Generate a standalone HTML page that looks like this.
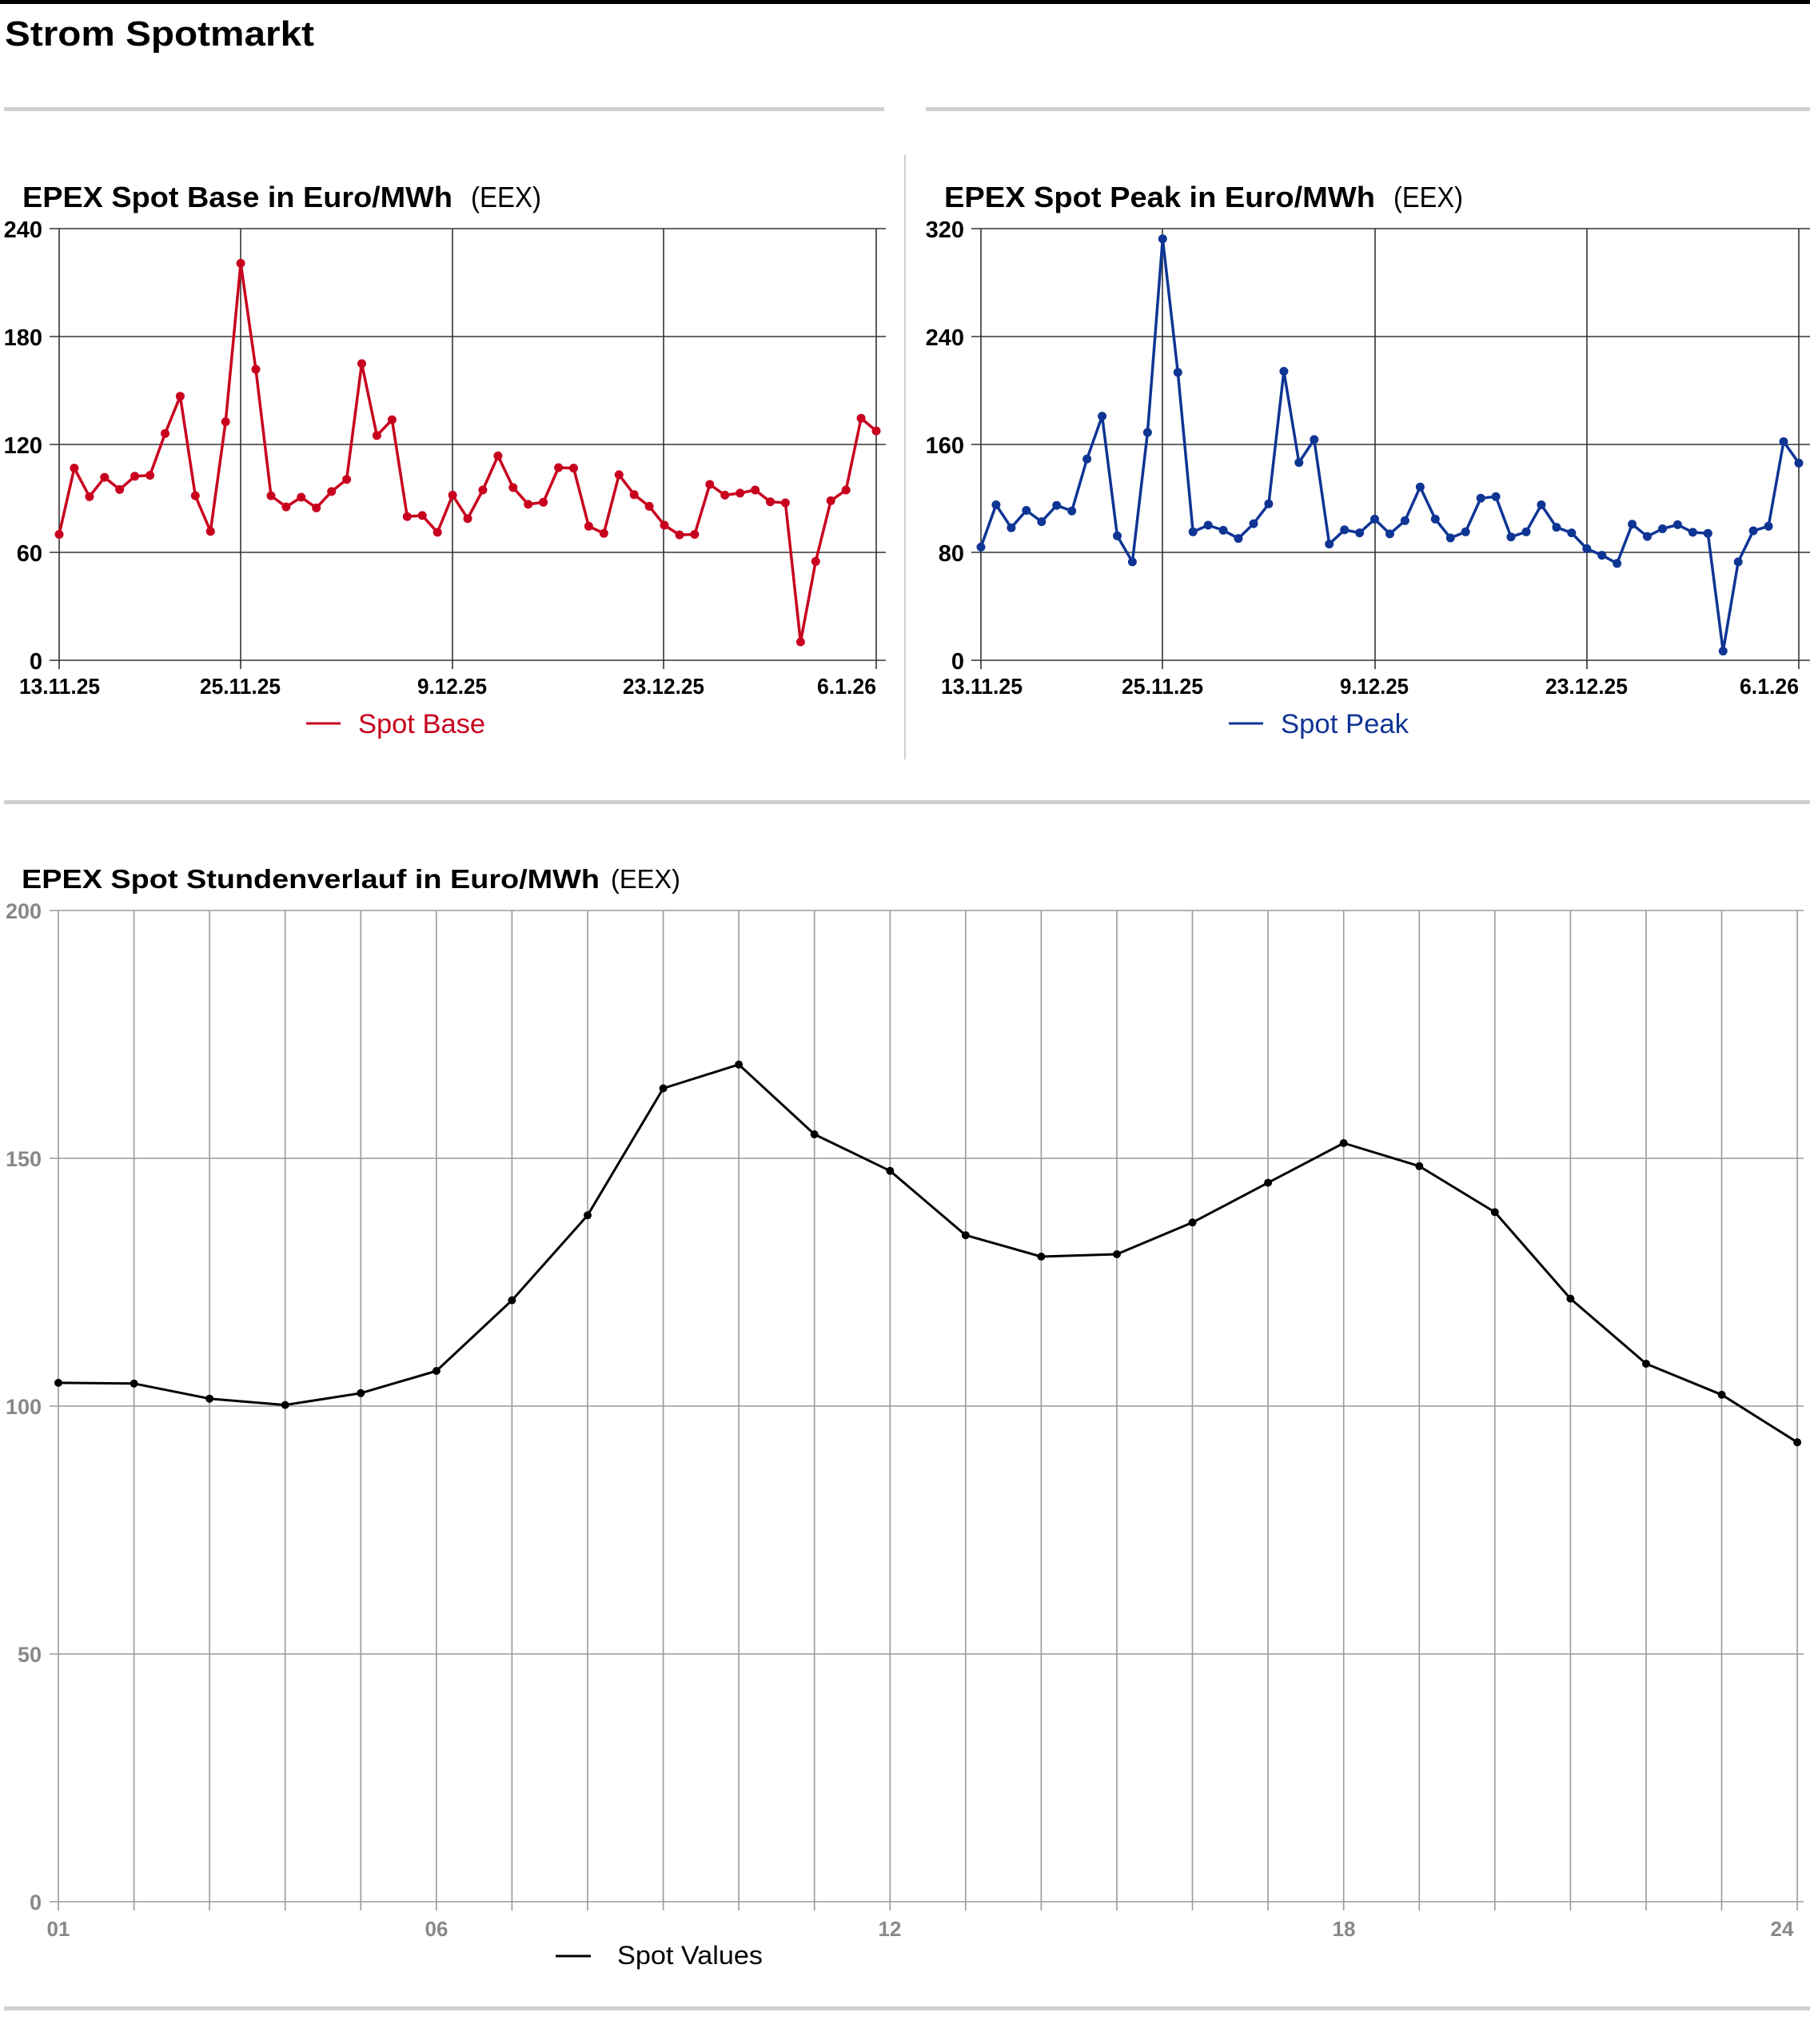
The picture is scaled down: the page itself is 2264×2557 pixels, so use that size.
<!DOCTYPE html>
<html><head><meta charset="utf-8"><style>
html,body{margin:0;padding:0;background:#fff;}
svg{display:block;}
text{font-family:"Liberation Sans Narrow","Liberation Sans",Arial,sans-serif;}
.h{font-family:"Liberation Sans",Arial,sans-serif;}
</style></head><body>
<svg width="2264" height="2557" viewBox="0 0 2264 2557" xmlns="http://www.w3.org/2000/svg">
<rect x="0" y="0" width="2264" height="5" fill="#000"/>
<text class="h" x="6" y="57" font-size="44" font-weight="bold" textLength="387" lengthAdjust="spacingAndGlyphs">Strom Spotmarkt</text>
<rect x="5" y="134" width="1101" height="5" fill="#cfcfcf"/>
<rect x="1158" y="134" width="1106" height="5" fill="#cfcfcf"/>
<rect x="1131" y="194" width="2" height="756" fill="#cfcfcf"/>
<rect x="5" y="1001" width="2259" height="5" fill="#cfcfcf"/>
<rect x="5" y="2510" width="2259" height="5" fill="#cfcfcf"/>

<!-- BASE -->
<text class="h" x="28" y="259" font-size="36" font-weight="bold" textLength="538" lengthAdjust="spacingAndGlyphs">EPEX Spot Base in Euro/MWh</text>
<text class="h" x="589" y="259" font-size="36" textLength="88" lengthAdjust="spacingAndGlyphs">(EEX)</text>
<g stroke="#333" stroke-width="1.6">
<line x1="62" y1="286" x2="1108" y2="286"/><line x1="62" y1="421" x2="1108" y2="421"/><line x1="62" y1="556" x2="1108" y2="556"/><line x1="62" y1="691" x2="1108" y2="691"/><line x1="62" y1="826" x2="1108" y2="826"/>
<line x1="74" y1="286" x2="74" y2="837"/><line x1="301" y1="286" x2="301" y2="837"/><line x1="566" y1="286" x2="566" y2="837"/><line x1="830" y1="286" x2="830" y2="837"/><line x1="1096" y1="286" x2="1096" y2="837"/>
</g>
<g font-size="29" font-weight="bold" text-anchor="end">
<text x="53" y="297">240</text><text x="53" y="432">180</text><text x="53" y="567">120</text><text x="53" y="702">60</text><text x="53" y="837">0</text>
</g>
<g font-size="28" font-weight="bold">
<text x="24" y="868" textLength="101" lengthAdjust="spacingAndGlyphs">13.11.25</text>
<text x="250" y="868" textLength="101" lengthAdjust="spacingAndGlyphs">25.11.25</text>
<text x="522" y="868" textLength="87" lengthAdjust="spacingAndGlyphs">9.12.25</text>
<text x="779" y="868" textLength="102" lengthAdjust="spacingAndGlyphs">23.12.25</text>
<text x="1022" y="868" textLength="74" lengthAdjust="spacingAndGlyphs">6.1.26</text>
</g>
<polyline fill="none" stroke="#c8001e" stroke-width="3.5" stroke-linejoin="round" points="74,668.5 92.9,585.6 111.9,621.3 130.8,597.1 149.7,612.4 168.6,595.8 187.6,594.6 206.5,542.3 225.4,495.7 244.3,620.1 263.3,664.7 282.2,527.6 301.1,329.4 320,462 339,620.1 357.9,634.1 376.8,622 395.7,635.4 414.7,614.9 433.6,599.7 452.5,454.9 471.4,544.8 490.4,525.1 509.3,646.2 528.2,644.9 547.2,665.9 566.1,619.4 585,648.7 603.9,613 622.9,570.3 641.8,609.9 660.7,630.9 679.6,628.3 698.6,585 717.5,585.6 736.4,658.3 755.3,667.2 774.3,593.9 793.2,618.8 812.1,633.4 831,657 850,669.1 868.9,668.5 887.8,606 906.7,619.4 925.7,616.9 944.6,613 963.5,627.7 982.4,629 1001.4,803 1020.3,702.3 1039.2,626.4 1058.2,613 1077.1,523.2 1096,539.1"/>
<g fill="#c8001e" id="bd"></g>
<line x1="383" y1="905" x2="426" y2="905" stroke="#c8001e" stroke-width="3"/>
<text class="h" x="448" y="917" font-size="34" fill="#c8001e" textLength="159" lengthAdjust="spacingAndGlyphs">Spot Base</text>

<!-- PEAK -->
<text class="h" x="1181" y="259" font-size="36" font-weight="bold" textLength="539" lengthAdjust="spacingAndGlyphs">EPEX Spot Peak in Euro/MWh</text>
<text class="h" x="1743" y="259" font-size="36" textLength="87" lengthAdjust="spacingAndGlyphs">(EEX)</text>
<g stroke="#333" stroke-width="1.6">
<line x1="1215" y1="286" x2="2264" y2="286"/><line x1="1215" y1="421" x2="2264" y2="421"/><line x1="1215" y1="556" x2="2264" y2="556"/><line x1="1215" y1="691" x2="2264" y2="691"/><line x1="1215" y1="826" x2="2264" y2="826"/>
<line x1="1227" y1="286" x2="1227" y2="837"/><line x1="1454" y1="286" x2="1454" y2="837"/><line x1="1720" y1="286" x2="1720" y2="837"/><line x1="1985" y1="286" x2="1985" y2="837"/><line x1="2250" y1="286" x2="2250" y2="837"/>
</g>
<g font-size="29" font-weight="bold" text-anchor="end">
<text x="1206" y="297">320</text><text x="1206" y="432">240</text><text x="1206" y="567">160</text><text x="1206" y="702">80</text><text x="1206" y="837">0</text>
</g>
<g font-size="28" font-weight="bold">
<text x="1177" y="868" textLength="102" lengthAdjust="spacingAndGlyphs">13.11.25</text>
<text x="1403" y="868" textLength="102" lengthAdjust="spacingAndGlyphs">25.11.25</text>
<text x="1676" y="868" textLength="86" lengthAdjust="spacingAndGlyphs">9.12.25</text>
<text x="1933" y="868" textLength="103" lengthAdjust="spacingAndGlyphs">23.12.25</text>
<text x="2176" y="868" textLength="74" lengthAdjust="spacingAndGlyphs">6.1.26</text>
</g>
<polyline fill="none" stroke="#0f3594" stroke-width="3.5" stroke-linejoin="round" points="1227,684.4 1245.9,631.5 1264.9,660.2 1283.8,638.5 1302.8,652.6 1321.7,632.2 1340.7,639.2 1359.6,574.2 1378.6,520.6 1397.5,670.4 1416.4,702.9 1435.4,541 1454.3,298.8 1473.3,465.8 1492.2,665.3 1511.2,657 1530.1,663.4 1549,673.6 1568,655.1 1586.9,630.3 1605.9,464.5 1624.8,578.6 1643.8,549.9 1662.7,680.6 1681.7,662.8 1700.6,666.6 1719.5,649.4 1738.5,667.9 1757.4,651.3 1776.4,609.2 1795.3,649.4 1814.3,673 1833.2,665.3 1852.2,623.2 1871.1,621.3 1890,671.7 1909,665.3 1927.9,631.5 1946.9,659.6 1965.8,666.6 1984.8,686.3 2003.7,694.6 2022.6,704.8 2041.6,655.8 2060.5,671.1 2079.5,661.5 2098.4,656.4 2117.4,665.9 2136.3,667.2 2155.3,814.5 2174.2,702.9 2193.1,664 2212.1,658.3 2231,552.5 2250,579.3"/>
<g fill="#0f3594" id="pd"></g>
<line x1="1537" y1="905" x2="1580" y2="905" stroke="#0f3594" stroke-width="3"/>
<text class="h" x="1602" y="917" font-size="34" fill="#0f3594" textLength="160" lengthAdjust="spacingAndGlyphs">Spot Peak</text>

<!-- HOURLY -->
<text class="h" x="27" y="1111" font-size="33" font-weight="bold" textLength="723" lengthAdjust="spacingAndGlyphs">EPEX Spot Stundenverlauf in Euro/MWh</text>
<text class="h" x="764" y="1111" font-size="33" textLength="87" lengthAdjust="spacingAndGlyphs">(EEX)</text>
<g stroke="#9a9a9a" stroke-width="1.6" id="hg">
<line x1="62" y1="1139" x2="2256" y2="1139"/><line x1="62" y1="1449" x2="2256" y2="1449"/><line x1="62" y1="1759" x2="2256" y2="1759"/><line x1="62" y1="2069" x2="2256" y2="2069"/><line x1="62" y1="2379" x2="2256" y2="2379"/>
</g>
<g font-size="27" font-weight="bold" fill="#888" text-anchor="end">
<text x="52" y="1149">200</text><text x="52" y="1459">150</text><text x="52" y="1769">100</text><text x="52" y="2079">50</text><text x="52" y="2389">0</text>
</g>
<g font-size="26" font-weight="bold" fill="#888" text-anchor="middle">
<text x="73" y="2422">01</text><text x="546" y="2422">06</text><text x="1113" y="2422">12</text><text x="1681" y="2422">18</text><text x="2229" y="2422">24</text>
</g>
<polyline fill="none" stroke="#000" stroke-width="3" stroke-linejoin="round" points="73,1729.9 167.6,1730.8 262.1,1749.7 356.7,1757.6 451.3,1742.8 545.9,1715 640.4,1626.6 735,1520.3 829.6,1361.5 924.1,1331.7 1018.7,1419 1113.3,1464.7 1207.8,1545.2 1302.4,1572 1397,1569 1491.6,1529.3 1586.1,1479.6 1680.7,1430 1775.3,1458.8 1869.8,1516.4 1964.4,1624.6 2059,1706 2153.6,1744.8 2248.1,1804.3"/>
<g fill="#000" id="hd"></g>
<line x1="695" y1="2447" x2="739" y2="2447" stroke="#000" stroke-width="3"/>
<text x="772" y="2457" font-size="32" textLength="182" lengthAdjust="spacingAndGlyphs">Spot Values</text>
</svg>
<script>
(function(){
 var ns="http://www.w3.org/2000/svg";
 function dots(sel,id,r){
  var pl=document.querySelectorAll("polyline")[sel];
  var pts=pl.getAttribute("points").trim().split(/\s+/);
  var g=document.getElementById(id);
  pts.forEach(function(p){var a=p.split(",");var c=document.createElementNS(ns,"circle");c.setAttribute("cx",a[0]);c.setAttribute("cy",a[1]);c.setAttribute("r",r);g.appendChild(c);});
 }
 dots(0,"bd","5.5");dots(1,"pd","5.5");dots(2,"hd","5");
 var g=document.getElementById("hg");
 for(var h=0;h<24;h++){var x=(73+h*94.57).toFixed(1);var l=document.createElementNS(ns,"line");l.setAttribute("x1",x);l.setAttribute("x2",x);l.setAttribute("y1","1139");l.setAttribute("y2","2390");g.appendChild(l);}
})();
</script>
</body></html>
